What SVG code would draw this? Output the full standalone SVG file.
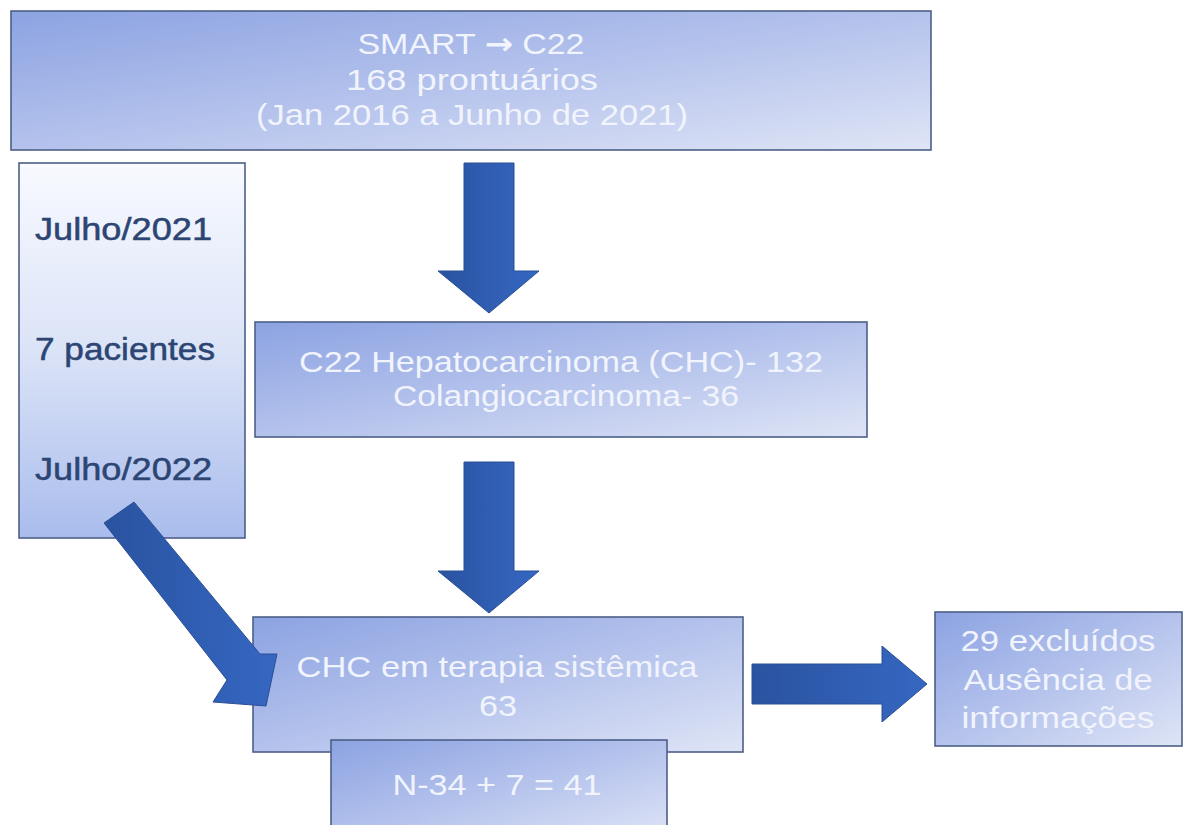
<svg xmlns="http://www.w3.org/2000/svg" width="1183" height="825" viewBox="0 0 1183 825">
<defs>
<linearGradient id="boxg" x1="0" y1="0" x2="1" y2="1">
<stop offset="0" stop-color="#8ca3e2"/>
<stop offset="0.5" stop-color="#b4c2ec"/>
<stop offset="1" stop-color="#dfe5f6"/>
</linearGradient>
<linearGradient id="sideg" x1="0" y1="0" x2="0" y2="1">
<stop offset="0" stop-color="#f8faff"/>
<stop offset="0.5" stop-color="#dbe3f7"/>
<stop offset="1" stop-color="#a9bcec"/>
</linearGradient>
<linearGradient id="arrg" x1="0" y1="0" x2="1" y2="0">
<stop offset="0" stop-color="#2a53a0"/>
<stop offset="1" stop-color="#3567c2"/>
</linearGradient>
</defs>
<style>
.box{fill:url(#boxg);stroke:#4d5f88;stroke-width:1.6}
.side{fill:url(#sideg);stroke:#4d5f88;stroke-width:1.6}
.arr{fill:url(#arrg);stroke:#2a4f95;stroke-width:1}
.wt{font-family:"Liberation Sans",Arial,sans-serif;font-size:30px;fill:#f1f4fc;text-anchor:middle}
.dk{font-family:"Liberation Sans",Arial,sans-serif;fill:#2d4573;font-size:31px;stroke:#2d4573;stroke-width:0.5}
.ar{font-family:"DejaVu Sans",sans-serif;font-weight:bold}
</style>
<rect width="1183" height="825" fill="#ffffff"/>
<g id="connectors">
<polygon class="arr" points="464,163 514,163 514,271 539,271 489,313 438,271 464,271"/>
<polygon class="arr" points="464,462 514,462 514,571 539,571 489,613 438,571 464,571"/>
<polygon class="arr" points="752,664 882,664 882,646 927,684 882,722 882,704 752,704"/>
</g>
<g id="node-top">
<rect class="box" x="11" y="11" width="920" height="139"/>
<text class="wt" x="471" y="54" textLength="227" lengthAdjust="spacingAndGlyphs">SMART <tspan class="ar">→</tspan> C22</text>
<text class="wt" x="472" y="90" textLength="252" lengthAdjust="spacingAndGlyphs">168 prontuários</text>
<text class="wt" x="472" y="125" textLength="432" lengthAdjust="spacingAndGlyphs">(Jan 2016 a Junho de 2021)</text>
</g>
<g id="node-side">
<rect class="side" x="19" y="163" width="226" height="375"/>
<text class="dk" x="35" y="240" textLength="177" lengthAdjust="spacingAndGlyphs">Julho/2021</text>
<text class="dk" x="35" y="360" textLength="180" lengthAdjust="spacingAndGlyphs">7 pacientes</text>
<text class="dk" x="35" y="480" textLength="177" lengthAdjust="spacingAndGlyphs">Julho/2022</text>
</g>
<g id="node-middle">
<rect class="box" x="255" y="322" width="612" height="115"/>
<text class="wt" x="561" y="372" textLength="524" lengthAdjust="spacingAndGlyphs">C22 Hepatocarcinoma (CHC)- 132</text>
<text class="wt" x="566" y="406" textLength="346" lengthAdjust="spacingAndGlyphs">Colangiocarcinoma- 36</text>
</g>
<g id="node-chc">
<rect class="box" x="253" y="617" width="490" height="135"/>
<text class="wt" x="497" y="677" textLength="401" lengthAdjust="spacingAndGlyphs">CHC em terapia sistêmica</text>
<text class="wt" x="498" y="716" textLength="38" lengthAdjust="spacingAndGlyphs">63</text>
</g>
<g id="node-n">
<rect class="box" x="331" y="740" width="336" height="100"/>
<text class="wt" x="497" y="795" textLength="209" lengthAdjust="spacingAndGlyphs">N-34 + 7 = 41</text>
</g>
<g id="node-excl">
<rect class="box" x="935" y="612" width="247" height="134"/>
<text class="wt" x="1058" y="651" textLength="195" lengthAdjust="spacingAndGlyphs">29 excluídos</text>
<text class="wt" x="1058" y="690" textLength="189" lengthAdjust="spacingAndGlyphs">Ausência de</text>
<text class="wt" x="1058" y="728" textLength="193" lengthAdjust="spacingAndGlyphs">informações</text>
</g>
<g id="connector-diag">
<polygon class="arr" points="104,523 134,502 260,654 277,654 266,706 213,702 227,680"/>
</g>
</svg>
